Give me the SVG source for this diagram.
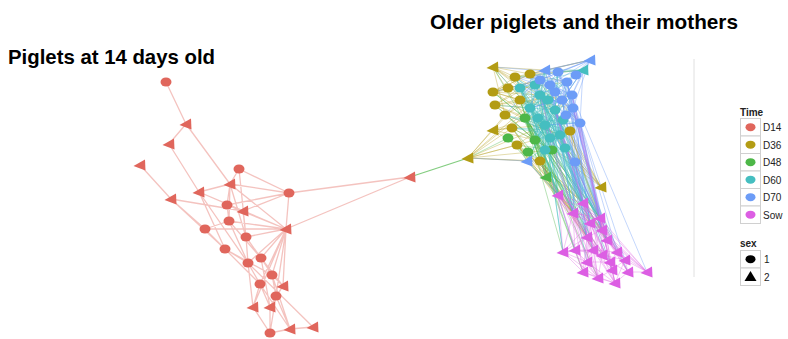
<svg xmlns="http://www.w3.org/2000/svg" xmlns:xlink="http://www.w3.org/1999/xlink" width="788" height="339" viewBox="0 0 788 339">
<style>
.title{font-family:"Liberation Sans",Arial,sans-serif;font-weight:bold;font-size:20.5px;fill:#000}
.lg{font-family:"Liberation Sans",Arial,sans-serif;font-size:10px;fill:#222}
.lgt{font-family:"Liberation Sans",Arial,sans-serif;font-size:10px;font-weight:bold;fill:#222}
.key{fill:#fff;stroke:#d0d0d0;stroke-width:1}
.d14{fill:#E0665C}.d36{fill:#B39C14}.d48{fill:#4DB748}.d60{fill:#45BEC0}.d70{fill:#6C9CF7}.sow{fill:#DC5EE3}
.eL{stroke:#E98880;stroke-opacity:.5;stroke-width:1.3;fill:none}
.e36{stroke:#B39C14;stroke-opacity:.35;stroke-width:1;fill:none}
.e48{stroke:#4DB748;stroke-opacity:.4;stroke-width:1;fill:none}
.e60{stroke:#45BEC0;stroke-opacity:.45;stroke-width:1;fill:none}
.e70{stroke:#6C9CF7;stroke-opacity:.4;stroke-width:1;fill:none}
.esw{stroke:#DC5EE3;stroke-opacity:.35;stroke-width:1;fill:none}
</style>
<defs>
<ellipse id="cir" cx="0" cy="0" rx="5.5" ry="4.5"/>
<polygon id="tri" points="-6.5,1 5,-5.5 5.5,5.5"/>
</defs>
<rect width="788" height="339" fill="#fff"/>
<text class="title" x="8" y="64" textLength="207" lengthAdjust="spacingAndGlyphs">Piglets at 14 days old</text>
<text class="title" x="430" y="29" textLength="308" lengthAdjust="spacingAndGlyphs">Older piglets and their mothers</text>
<line x1="694" y1="59" x2="694" y2="277" stroke="#e0e0e0" stroke-width="1"/>

<g id="connectors">
<path class="eL" d="M166 82L186 124M186 124L169 144M186 124L230 184M169 144L199 192M199 192L248 263M199 192L225 249M140 165L171 199M171 199L243 211M171 199L225 249M171 199L205 229M239 169L230 184M239 169L289 193M239 169L246 237M230 184L199 192M230 184L289 193M230 184L227 205M230 184L229 221M230 184L286 229M230 184L246 237M199 192L286 229M199 192L243 211M289 193L243 211M289 193L286 229M289 193L227 205M289 193L410 177M286 229L410 177M227 205L286 229M227 205L229 221M227 205L243 211M243 211L286 229M243 211L246 237M229 221L205 229M229 221L261 258M229 221L248 263M229 221L286 229M205 229L286 229M205 229L225 249M286 229L246 237M286 229L261 258M286 229L248 263M286 229L272 275M286 229L283 286M286 229L260 284M286 229L276 296M286 229L253 307M246 237L261 258M246 237L248 263M225 249L248 263M225 249L260 284M225 249L272 275M261 258L272 275M261 258L283 286M261 258L270 307M248 263L260 284M248 263L253 307M248 263L313 327M272 275L283 286M272 275L276 296M272 275L290 329M283 286L270 307M283 286L276 296M260 284L253 307M260 284L270 307M260 284L290 329M276 296L270 307M276 296L270 333M276 296L290 329M253 307L270 333M270 307L270 333M270 333L290 329M290 329L313 327"/>
<path d="M410 177L468 158" stroke="#4DB748" stroke-opacity=".7" stroke-width="1.3" fill="none"/>
<path class="e36" d="M493 67L515 77M493 67L530 74M493 67L545 70M493 67L540 95M493 67L520 88M493 67L555 110M493 67L530 108M493 67L525 118M493 67L505 115M493 92L540 80M493 92L555 110M493 92L545 125M493 92L520 100M493 92L530 74M493 92L567 82M495 105L545 125M495 105L560 135M495 105L535 140M495 105L540 95M495 105L572 95M493 130L512 128M493 130L545 125M493 130L535 140M493 130L555 110M493 130L517 145M493 130L540 80M468 158L493 130M468 158L517 145M468 158L540 161M468 158L527 161M468 158L535 140M468 158L545 125M468 158L512 128M468 158L552 150M468 158L505 115M468 158L540 95M468 158L530 108M601 187L570 131M601 187L555 110M601 187L560 135M601 187L540 95M601 187L545 125M601 187L575 162M601 187L552 150M601 187L530 108M517 145L558 195M517 145L573 213M517 145L583 203M517 145L590 223M517 145L587 237M540 161L558 195M540 161L583 203M540 161L600 218M540 161L573 213M540 161L593 250M570 131L600 218M570 131L602 230M570 131L583 203M570 131L607 240M515 77L583 70M515 77L590 60M515 77L573 108M530 74L590 60M530 74L583 70M530 74L567 82M530 74L580 123M505 115L560 135M520 100L573 108M512 128L575 162M493 92L530 74M493 92L540 95M495 105L530 108M493 92L515 77M495 105L520 88M505 115L540 95M512 128L540 95M517 145L545 125M493 92L540 80M495 105L540 80M512 128L558 195M512 128L573 213M517 145L583 203M527 161L573 213M540 161L587 237"/>
<path class="e48" d="M546 177L558 195M546 177L525 118M546 177L535 140M546 177L545 125M546 177L552 150M546 177L520 100M546 177L540 95M525 118L573 213M525 118L558 195M525 118L583 203M525 118L600 218M525 118L590 223M525 118L587 237M525 118L563 252M535 140L573 213M535 140L583 203M535 140L602 255M535 140L575 250M552 150L600 218M552 150L607 240M552 150L593 250M508 138L468 158M508 138L558 195M508 138L540 161M525 118L493 92M535 140L493 67M552 150L515 77M525 118L583 272M535 140L598 278M505 115L535 140M520 100L535 140M520 100L540 161M512 128L552 150M517 145L552 150M495 105L535 140M493 92L525 118M520 88L535 140M525 118L540 161M530 108L552 150M517 145L527 161M512 128L540 161M525 118L600 218M525 118L602 230M525 118L607 240M535 140L587 237M540 161L602 230M540 161L607 240M552 150L558 195"/>
<path class="e60" d="M583 70L540 95M583 70L545 70M583 70L558 72M583 70L530 108M583 70L520 88M583 70L555 110M583 70L515 77M540 95L583 203M540 95L600 218M540 95L573 213M540 95L590 223M540 95L602 230M540 95L587 237M540 95L558 195M540 95L607 240M555 110L600 218M555 110L602 230M555 110L593 250M555 110L617 252M555 110L583 203M530 108L573 213M530 108L558 195M530 108L587 237M530 108L575 250M560 135L600 218M560 135L607 240M560 135L587 262M560 135L610 262M545 125L583 203M545 125L590 223M545 125L563 252M520 88L573 213M520 88L600 218M520 88L558 195M520 88L560 135M530 108L575 162M545 125L493 67M555 110L493 105M540 95L612 270M555 110L628 272M515 77L540 95M515 77L530 108M515 77L545 125M515 77L555 110M530 74L540 95M530 74L545 125M530 74L555 110M530 74L535 140M545 70L540 95M545 70L530 108M545 70L545 125M545 70L535 140M545 70L560 135M558 72L540 95M558 72L555 110M558 72L545 125M558 72L552 150M567 82L540 95M567 82L530 108M567 82L545 125M567 82L560 135M540 80L555 110M540 80L525 118M540 80L535 140M540 80L552 150M550 85L525 118M550 85L535 140M550 85L540 161M550 85L560 135M520 88L555 110M520 88L545 125M520 88L552 150M520 88L570 131M540 95L525 118M540 95L545 125M540 95L560 135M540 95L575 162M572 95L545 125M572 95L530 108M572 95L535 140M572 95L552 150M562 100L525 118M562 100L535 140M562 100L540 161M520 100L555 110M520 100L560 135M520 100L552 150M530 108L560 135M530 108L570 131M555 110L535 140M555 110L540 161M555 110L527 161M573 108L545 125M573 108L535 140M573 108L552 150M505 115L545 125M505 115L560 135M525 118L570 131M525 118L575 162M545 125L552 150M545 125L527 161M580 123L545 125M580 123L535 140M580 123L525 118M512 128L560 135M512 128L570 131M570 131L535 140M560 135L540 161M560 135L527 161M545 125L573 213M545 125L558 195M545 125L600 218M560 135L583 203M560 135L573 213M560 135L590 223M555 110L558 195M555 110L573 213M555 110L587 237M540 95L563 252M530 108L600 218M530 108L583 203"/>
<path class="e70" d="M590 60L558 72M590 60L545 70M590 60L567 82M590 60L540 80M590 60L550 85M590 60L530 74M590 60L572 95M590 60L520 88M545 70L520 88M545 70L505 115M545 70L530 108M545 70L572 95M567 82L600 218M567 82L602 230M567 82L583 203M572 95L607 240M572 95L600 218M572 95L590 223M580 123L600 218M580 123L617 252M580 123L602 230M580 123L607 240M575 162L600 218M575 162L583 203M575 162L602 230M575 162L573 213M527 161L468 158M527 161L540 161M527 161L558 195M550 85L587 237M550 85L593 250M550 85L573 213M562 100L600 218M562 100L583 203M573 108L602 230M573 108L590 223M558 72L493 67M540 80L493 92M567 82L625 260M572 95L647 272M545 70L567 82M545 70L573 108M545 70L580 123M558 72L572 95M558 72L573 108M558 72L580 123M530 74L567 82M530 74L572 95M530 74L573 108M540 80L572 95M540 80L562 100M540 80L580 123M550 85L580 123M550 85L570 131M540 95L573 108M540 95L580 123M555 110L580 123M567 82L573 108M567 82L562 100M515 77L567 82M515 77L572 95M520 88L572 95M520 88L573 108M562 100L580 123M562 100L575 162M573 108L575 162M555 110L575 162M545 125L580 123M530 108L562 100M530 108L572 95M545 125L575 162M583 70L572 95M583 70L580 123M583 70L562 100M590 60L573 108M590 60L562 100M580 123L583 203M580 123L573 213M572 95L573 213M567 82L590 223M562 100L587 237M573 108L607 240M575 162L590 223M575 162L587 237M558 72L600 218M545 70L583 203"/>
<path class="esw" d="M558 195L563 252M558 195L575 250M558 195L573 213M558 195L583 203M558 195L587 237M558 195L583 272M583 203L600 218M583 203L602 230M583 203L593 250M583 203L625 260M583 203L602 255M573 213L563 252M573 213L575 250M573 213L587 262M573 213L598 278M573 213L590 223M600 218L617 252M600 218L625 260M600 218L628 272M600 218L647 272M600 218L607 240M590 223L593 250M590 223L587 262M590 223L612 270M590 223L610 262M602 230L602 255M602 230L610 262M602 230L628 272M602 230L617 252M587 237L563 252M587 237L583 272M587 237L587 262M587 237L575 250M587 237L593 250M607 240L617 252M607 240L625 260M607 240L612 270M607 240L647 272M563 252L575 250M563 252L583 272M563 252L598 278M575 250L593 250M575 250L587 262M575 250L583 272M593 250L602 255M593 250L612 270M593 250L598 278M617 252L625 260M617 252L628 272M617 252L647 272M602 255L610 262M602 255L615 283M625 260L628 272M625 260L647 272M625 260L615 283M587 262L583 272M587 262L598 278M587 262L615 283M610 262L612 270M610 262L615 283M583 272L598 278M612 270L615 283M628 272L647 272M598 278L615 283M558 195L647 272M583 203L647 272M600 218L560 135M583 203L555 110M602 230L572 95M573 213L545 125M558 195L590 223M558 195L600 218M558 195L602 230M558 195L593 250M558 195L610 262M558 195L598 278M583 203L573 213M583 203L590 223M583 203L587 237M583 203L617 252M583 203L612 270M573 213L600 218M573 213L602 230M573 213L593 250M573 213L610 262M573 213L583 272M573 213L615 283M600 218L590 223M600 218L602 230M600 218L593 250M600 218L602 255M600 218L610 262M600 218L612 270M590 223L602 230M590 223L575 250M590 223L563 252M590 223L625 260M590 223L598 278M602 230L587 237M602 230L593 250M602 230L647 272M602 230L615 283M587 237L602 255M587 237L610 262M587 237L598 278M607 240L602 255M607 240L628 272M607 240L615 283M563 252L593 250M563 252L587 262M575 250L602 255M575 250L598 278M593 250L617 252M593 250L587 262M593 250L615 283M617 252L612 270M617 252L610 262M602 255L625 260M602 255L598 278M625 260L612 270M587 262L610 262M610 262L628 272M612 270L598 278M583 272L615 283M628 272L615 283M558 195L540 161M573 213L540 95M590 223L555 110M600 218L580 123M607 240L573 108"/>
</g>

<g id="n-L1"><use href="#cir" x="166" y="82" class="d14"/></g>
<g id="n-L2"><use href="#tri" x="186" y="124" class="d14"/></g>
<g id="n-L3"><use href="#tri" x="169" y="144" class="d14"/></g>
<g id="n-L4"><use href="#tri" x="140" y="165" class="d14"/></g>
<g id="n-L5"><use href="#cir" x="239" y="169" class="d14"/></g>
<g id="n-L6"><use href="#tri" x="230" y="184" class="d14"/></g>
<g id="n-L7"><use href="#tri" x="199" y="192" class="d14"/></g>
<g id="n-L8"><use href="#cir" x="289" y="193" class="d14"/></g>
<g id="n-L9"><use href="#tri" x="171" y="199" class="d14"/></g>
<g id="n-L10"><use href="#cir" x="227" y="205" class="d14"/></g>
<g id="n-L11"><use href="#tri" x="243" y="211" class="d14"/></g>
<g id="n-L12"><use href="#cir" x="229" y="221" class="d14"/></g>
<g id="n-L13"><use href="#cir" x="205" y="229" class="d14"/></g>
<g id="n-L14"><use href="#tri" x="286" y="229" class="d14"/></g>
<g id="n-L15"><use href="#cir" x="246" y="237" class="d14"/></g>
<g id="n-L16"><use href="#cir" x="225" y="249" class="d14"/></g>
<g id="n-L17"><use href="#cir" x="261" y="258" class="d14"/></g>
<g id="n-L18"><use href="#cir" x="248" y="263" class="d14"/></g>
<g id="n-L19"><use href="#cir" x="272" y="275" class="d14"/></g>
<g id="n-L20"><use href="#tri" x="283" y="286" class="d14"/></g>
<g id="n-L21"><use href="#cir" x="260" y="284" class="d14"/></g>
<g id="n-L22"><use href="#cir" x="276" y="296" class="d14"/></g>
<g id="n-L23"><use href="#tri" x="253" y="307" class="d14"/></g>
<g id="n-L24"><use href="#tri" x="270" y="307" class="d14"/></g>
<g id="n-L25"><use href="#cir" x="270" y="333" class="d14"/></g>
<g id="n-L26"><use href="#tri" x="290" y="329" class="d14"/></g>
<g id="n-L27"><use href="#tri" x="313" y="327" class="d14"/></g>
<g id="n-L28"><use href="#tri" x="410" y="177" class="d14"/></g>

<g id="n-O1"><use href="#tri" x="493" y="67" class="d36"/></g>
<g id="n-O2"><use href="#cir" x="515" y="77" class="d36"/></g>
<g id="n-O3"><use href="#cir" x="530" y="74" class="d36"/></g>
<g id="n-O4"><use href="#cir" x="493" y="92" class="d36"/></g>
<g id="n-O5"><use href="#cir" x="495" y="105" class="d36"/></g>
<g id="n-O6"><use href="#tri" x="493" y="130" class="d36"/></g>
<g id="n-O7"><use href="#cir" x="512" y="128" class="d36"/></g>
<g id="n-O8"><use href="#cir" x="517" y="145" class="d36"/></g>
<g id="n-O9"><use href="#cir" x="540" y="161" class="d36"/></g>
<g id="n-O10"><use href="#cir" x="570" y="131" class="d36"/></g>
<g id="n-O11"><use href="#tri" x="468" y="158" class="d36"/></g>
<g id="n-O12"><use href="#tri" x="601" y="187" class="d36"/></g>
<g id="n-O13"><use href="#cir" x="505" y="115" class="d36"/></g>
<g id="n-O14"><use href="#cir" x="520" y="100" class="d36"/></g>
<g id="n-O15"><use href="#cir" x="508" y="88" class="d36"/></g>
<g id="n-G1"><use href="#tri" x="546" y="177" class="d48"/></g>
<g id="n-G2"><use href="#cir" x="525" y="118" class="d48"/></g>
<g id="n-G3"><use href="#cir" x="535" y="140" class="d48"/></g>
<g id="n-G4"><use href="#cir" x="552" y="150" class="d48"/></g>
<g id="n-G5"><use href="#cir" x="508" y="138" class="d48"/></g>
<g id="n-G6"><use href="#cir" x="528" y="152" class="d48"/></g>
<g id="n-C1"><use href="#tri" x="583" y="70" class="d60"/></g>
<g id="n-C2"><use href="#cir" x="540" y="95" class="d60"/></g>
<g id="n-C3"><use href="#cir" x="555" y="110" class="d60"/></g>
<g id="n-C4"><use href="#cir" x="530" y="108" class="d60"/></g>
<g id="n-C5"><use href="#cir" x="560" y="135" class="d60"/></g>
<g id="n-C6"><use href="#cir" x="545" y="125" class="d60"/></g>
<g id="n-C7"><use href="#cir" x="520" y="88" class="d60"/></g>
<g id="n-C8"><use href="#cir" x="535" y="85" class="d60"/></g>
<g id="n-C9"><use href="#cir" x="548" y="100" class="d60"/></g>
<g id="n-C10"><use href="#cir" x="538" y="118" class="d60"/></g>
<g id="n-C11"><use href="#cir" x="550" y="138" class="d60"/></g>
<g id="n-C12"><use href="#cir" x="563" y="120" class="d60"/></g>
<g id="n-C13"><use href="#cir" x="545" y="150" class="d60"/></g>
<g id="n-C14"><use href="#cir" x="565" y="148" class="d60"/></g>
<g id="n-B1"><use href="#tri" x="590" y="60" class="d70"/></g>
<g id="n-B2"><use href="#tri" x="545" y="70" class="d70"/></g>
<g id="n-B3"><use href="#cir" x="558" y="72" class="d70"/></g>
<g id="n-B4"><use href="#cir" x="567" y="82" class="d70"/></g>
<g id="n-B5"><use href="#cir" x="572" y="95" class="d70"/></g>
<g id="n-B6"><use href="#cir" x="573" y="108" class="d70"/></g>
<g id="n-B7"><use href="#cir" x="580" y="123" class="d70"/></g>
<g id="n-B8"><use href="#cir" x="575" y="162" class="d70"/></g>
<g id="n-B9"><use href="#tri" x="527" y="161" class="d70"/></g>
<g id="n-B10"><use href="#cir" x="550" y="85" class="d70"/></g>
<g id="n-B11"><use href="#cir" x="562" y="100" class="d70"/></g>
<g id="n-B12"><use href="#cir" x="540" y="80" class="d70"/></g>
<g id="n-B13"><use href="#cir" x="576" y="75" class="d70"/></g>
<g id="n-B14"><use href="#cir" x="566" y="115" class="d70"/></g>
<g id="n-B15"><use href="#cir" x="555" y="92" class="d70"/></g>

<g id="n-S1"><use href="#tri" x="558" y="195" class="sow"/></g>
<g id="n-S2"><use href="#tri" x="583" y="203" class="sow"/></g>
<g id="n-S3"><use href="#tri" x="573" y="213" class="sow"/></g>
<g id="n-S4"><use href="#tri" x="600" y="218" class="sow"/></g>
<g id="n-S5"><use href="#tri" x="590" y="223" class="sow"/></g>
<g id="n-S6"><use href="#tri" x="602" y="230" class="sow"/></g>
<g id="n-S7"><use href="#tri" x="587" y="237" class="sow"/></g>
<g id="n-S8"><use href="#tri" x="607" y="240" class="sow"/></g>
<g id="n-S9"><use href="#tri" x="563" y="252" class="sow"/></g>
<g id="n-S10"><use href="#tri" x="575" y="250" class="sow"/></g>
<g id="n-S11"><use href="#tri" x="593" y="250" class="sow"/></g>
<g id="n-S12"><use href="#tri" x="617" y="252" class="sow"/></g>
<g id="n-S13"><use href="#tri" x="602" y="255" class="sow"/></g>
<g id="n-S14"><use href="#tri" x="625" y="260" class="sow"/></g>
<g id="n-S15"><use href="#tri" x="587" y="262" class="sow"/></g>
<g id="n-S16"><use href="#tri" x="610" y="262" class="sow"/></g>
<g id="n-S17"><use href="#tri" x="583" y="272" class="sow"/></g>
<g id="n-S18"><use href="#tri" x="612" y="270" class="sow"/></g>
<g id="n-S19"><use href="#tri" x="628" y="272" class="sow"/></g>
<g id="n-S20"><use href="#tri" x="647" y="272" class="sow"/></g>
<g id="n-S21"><use href="#tri" x="598" y="278" class="sow"/></g>
<g id="n-S22"><use href="#tri" x="615" y="283" class="sow"/></g>

<g id="legend">
<text class="lgt" x="740" y="116">Time</text>
<rect class="key" x="740.5" y="118.5" width="20" height="17.5"/>
<rect class="key" x="740.5" y="136" width="20" height="17.5"/>
<rect class="key" x="740.5" y="153.5" width="20" height="17.5"/>
<rect class="key" x="740.5" y="171" width="20" height="17.5"/>
<rect class="key" x="740.5" y="188.5" width="20" height="17.5"/>
<rect class="key" x="740.5" y="206" width="20" height="17.5"/>
<ellipse class="d14" cx="750.5" cy="127.2" rx="5" ry="4"/>
<ellipse class="d36" cx="750.5" cy="144.7" rx="5" ry="4"/>
<ellipse class="d48" cx="750.5" cy="162.2" rx="5" ry="4"/>
<ellipse class="d60" cx="750.5" cy="179.7" rx="5" ry="4"/>
<ellipse class="d70" cx="750.5" cy="197.2" rx="5" ry="4"/>
<ellipse class="sow" cx="750.5" cy="214.7" rx="5" ry="4"/>
<text class="lg" x="763" y="131">D14</text>
<text class="lg" x="763" y="148.5">D36</text>
<text class="lg" x="763" y="166">D48</text>
<text class="lg" x="763" y="183.5">D60</text>
<text class="lg" x="763" y="201">D70</text>
<text class="lg" x="763" y="218.5">Sow</text>
<text class="lgt" x="740" y="247">sex</text>
<rect class="key" x="740.5" y="250.5" width="20" height="17.5"/>
<rect class="key" x="740.5" y="268" width="20" height="17.5"/>
<ellipse cx="750.5" cy="259.2" rx="5" ry="4" fill="#000"/>
<polygon points="744.5,281 750.5,271 756.5,281" fill="#000"/>
<text class="lg" x="764" y="263">1</text>
<text class="lg" x="764" y="280.5">2</text>
</g>
</svg>
